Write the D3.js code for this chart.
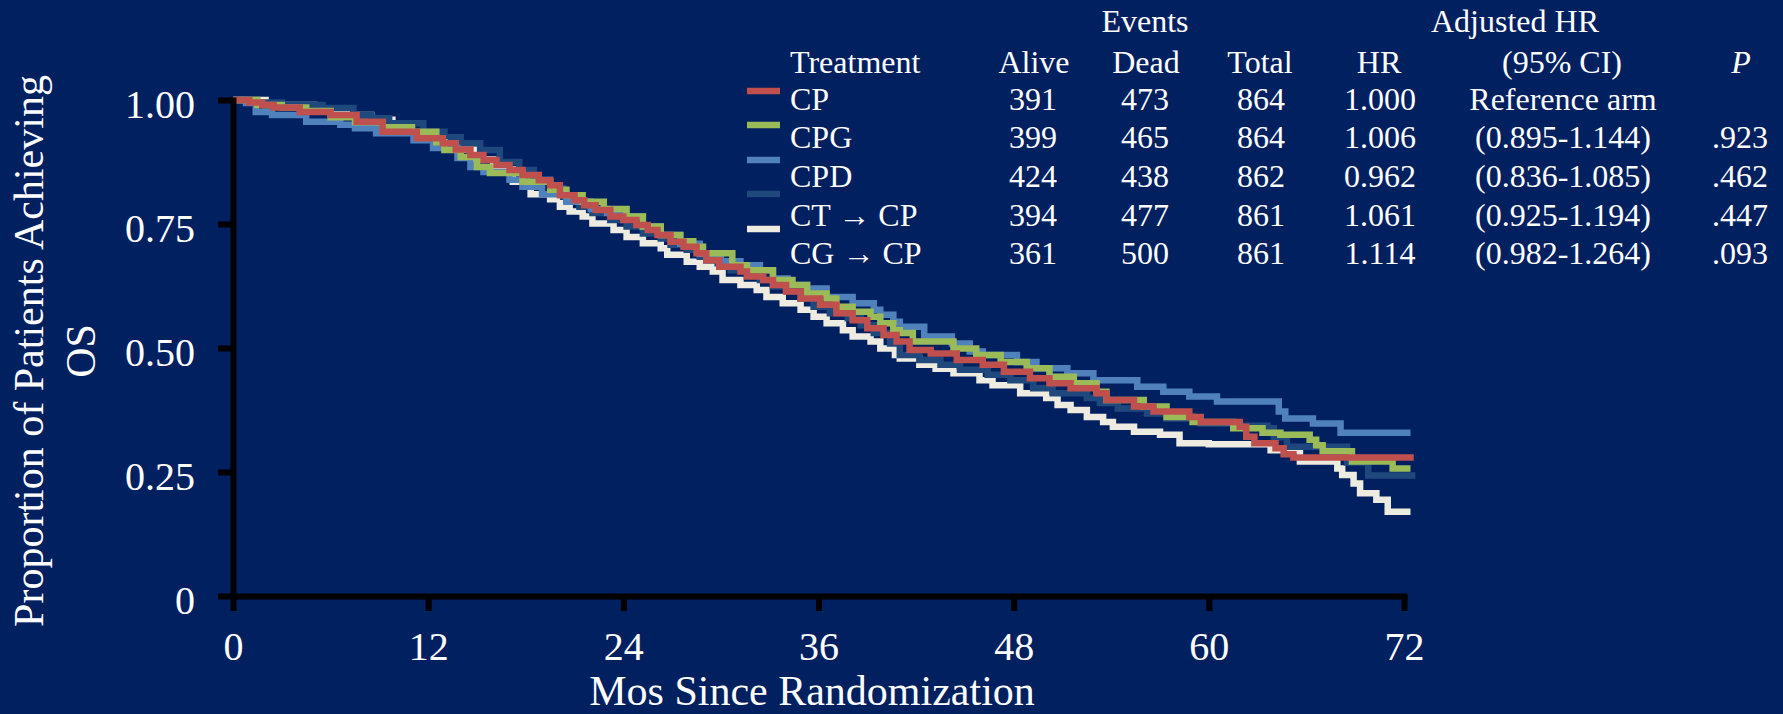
<!DOCTYPE html>
<html>
<head>
<meta charset="utf-8">
<script src="https://cdn.jsdelivr.net/npm/d3@7"></script>
<style>
  html, body { margin: 0; padding: 0; background: #002060; }
  svg { display: block; }
  text { font-family: "Liberation Serif", "Times New Roman", serif; fill: #ffffff; }
</style>
</head>
<body>
<svg id="chart" width="1783" height="714"></svg>
<script>
// ---------------- DATA ----------------
const xTicks = [0, 12, 24, 36, 48, 60, 72];
const xTickLabels = ["0", "12", "24", "36", "48", "60", "72"];
const yTicks = [0, 0.25, 0.5, 0.75, 1.0];
const yTickLabels = ["0", "0.25", "0.50", "0.75", "1.00"];

const seriesNames = ["CP", "CPG", "CPD", "CT \u2192 CP", "CG \u2192 CP"];
const seriesColors = ["#C0504D", "#9BBB59", "#4F81BD", "#1F497D", "#EEECE1"];

// Kaplan-Meier step points [month, proportion]
const CP = [[0,1.0],[1.0,0.995],[1.8,0.99],[2.5,0.985],[4.1,0.976],[6.0,0.970],[7.6,0.956],[9.2,0.936],
  [11.3,0.923],[12.9,0.913],[13.7,0.900],[14.6,0.889],[15.4,0.879],[16.2,0.869],[17.0,0.859],[17.8,0.849],
  [18.8,0.838],[19.5,0.828],[20.1,0.808],[21.0,0.798],[21.6,0.788],[22.3,0.778],[23.2,0.765],[24.0,0.758],
  [24.8,0.748],[25.5,0.738],[26.1,0.728],[26.9,0.714],[27.7,0.704],[28.5,0.691],[29.1,0.677],[29.9,0.664],
  [31.2,0.654],[31.6,0.644],[32.6,0.637],[33.2,0.627],[34.0,0.614],[34.9,0.600],[36.1,0.587],[37.1,0.570],
  [38.1,0.556],[39.0,0.540],[40.0,0.526],[40.8,0.513],[41.6,0.496],[42.9,0.489],[44.5,0.476],[46.1,0.466],
  [47.4,0.452],[49.0,0.439],[50.2,0.429],[51.5,0.419],[53.1,0.409],[53.7,0.395],[55.4,0.382],[56.6,0.372],
  [58.8,0.361],[59.5,0.351],[61.9,0.341],[62.3,0.321],[62.8,0.308],[64.1,0.298],[64.6,0.286],[65.2,0.279],
  [72.6,0.279]];

const CPG = [[0,1.0],[1.5,0.99],[3.0,0.985],[4.5,0.978],[6.0,0.965],[7.5,0.955],[9.2,0.945],[11.0,0.936],
  [12.5,0.915],[13.0,0.899],[14.0,0.885],[15.0,0.865],[15.8,0.853],[17.8,0.835],[19.5,0.819],[20.5,0.808],
  [21.5,0.795],[22.8,0.780],[24.2,0.765],[25.2,0.745],[26.3,0.728],[27.5,0.715],[28.3,0.704],[28.9,0.691],
  [30.7,0.667],[31.6,0.657],[33.2,0.637],[34.4,0.627],[35.3,0.610],[36.5,0.600],[37.1,0.583],[38.1,0.573],
  [39.2,0.563],[39.8,0.550],[40.6,0.536],[41.0,0.530],[41.8,0.513],[44.3,0.499],[45.7,0.486],[47.2,0.472],
  [48.8,0.459],[50.2,0.442],[51.7,0.429],[53.1,0.412],[53.7,0.395],[56.0,0.382],[57.4,0.361],[59.0,0.351],
  [61.5,0.338],[63.3,0.329],[64.4,0.325],[66.2,0.315],[66.6,0.304],[67.0,0.292],[68.8,0.271],[71.3,0.257],
  [72.4,0.257]];

const CPD = [[0,1.0],[0.8,0.994],[1.4,0.976],[2.4,0.970],[4.5,0.956],[6.6,0.950],[7.5,0.943],[8.8,0.933],
  [11.1,0.919],[12.3,0.903],[13.8,0.883],[14.6,0.865],[15.4,0.855],[17.0,0.839],[17.8,0.825],[19.0,0.810],
  [20.5,0.795],[22.0,0.780],[23.0,0.772],[24.0,0.765],[25.2,0.745],[26.3,0.728],[27.5,0.710],[28.7,0.690],
  [30.0,0.675],[31.2,0.667],[32.4,0.657],[33.2,0.640],[34.1,0.627],[35.3,0.620],[36.5,0.603],[38.1,0.590],
  [39.4,0.577],[39.8,0.567],[40.6,0.553],[41.0,0.543],[42.5,0.523],[44.2,0.509],[45.3,0.493],[46.1,0.486],
  [48.2,0.472],[49.4,0.459],[51.3,0.449],[52.9,0.435],[55.6,0.422],[57.2,0.412],[58.8,0.402],[60.5,0.392],
  [64.3,0.372],[64.7,0.358],[66.4,0.348],[68.1,0.329],[72.4,0.329]];

const CTCP = [[0,1.0],[1.0,0.995],[3.0,0.990],[5.5,0.984],[7.4,0.970],[8.5,0.963],[9.6,0.953],[11.7,0.936],
  [13.0,0.925],[14.0,0.913],[15.2,0.899],[16.4,0.875],[17.6,0.859],[18.5,0.840],[19.5,0.822],[20.3,0.805],
  [21.3,0.785],[22.1,0.772],[23.2,0.758],[24.2,0.745],[25.2,0.731],[26.3,0.721],[26.9,0.708],[27.9,0.698],
  [28.7,0.684],[29.8,0.671],[30.6,0.657],[31.6,0.651],[32.4,0.637],[33.2,0.624],[34.1,0.614],[34.9,0.600],
  [35.7,0.583],[36.7,0.570],[37.8,0.560],[38.6,0.546],[39.4,0.530],[40.4,0.509],[41.0,0.486],[42.2,0.476],
  [43.5,0.466],[44.7,0.456],[46.4,0.446],[47.8,0.435],[49.2,0.419],[50.4,0.409],[52.5,0.399],[53.3,0.389],
  [54.4,0.378],[56.2,0.368],[57.4,0.358],[59.5,0.348],[61.5,0.343],[63.6,0.338],[64.0,0.320],[64.8,0.301],
  [68.5,0.269],[69.8,0.243],[72.7,0.243]];

const CGCP = [[0,1.0],[2.0,0.990],[5.0,0.982],[7.0,0.970],[8.5,0.960],[9.8,0.950],[11.0,0.935],[12.3,0.920],
  [13.5,0.900],[14.8,0.880],[16.0,0.860],[17.2,0.835],[18.3,0.810],[19.5,0.800],[20.1,0.785],[20.7,0.775],
  [21.5,0.765],[22.1,0.751],[23.4,0.738],[24.2,0.724],[25.2,0.711],[26.3,0.701],[26.7,0.688],[27.9,0.674],
  [28.7,0.664],[29.5,0.654],[30.1,0.637],[31.2,0.627],[32.2,0.617],[32.8,0.603],[33.8,0.590],[34.9,0.577],
  [35.7,0.563],[36.5,0.550],[37.5,0.536],[38.1,0.523],[39.2,0.513],[39.8,0.499],[40.7,0.486],[41.0,0.479],
  [42.2,0.466],[43.2,0.458],[44.3,0.449],[45.9,0.435],[46.7,0.425],[48.4,0.409],[50.0,0.399],[50.7,0.385],
  [51.5,0.375],[52.5,0.361],[53.5,0.351],[54.1,0.341],[55.4,0.331],[57.0,0.325],[58.2,0.308],[60.0,0.306],
  [63.8,0.294],[65.6,0.271],[67.9,0.257],[68.2,0.244],[68.9,0.227],[69.3,0.207],[70.3,0.194],[71.0,0.170],
  [72.4,0.170]];

const seriesData = [CP, CPG, CPD, CTCP, CGCP];

// Table
const colHeadersTop = ["Events", "Adjusted HR"];
const colHeaders = ["Treatment", "Alive", "Dead", "Total", "HR", "(95% CI)", "P"];
const aliveVals = ["391", "399", "424", "394", "361"];
const deadVals  = ["473", "465", "438", "477", "500"];
const totalVals = ["864", "864", "862", "861", "861"];
const hrVals    = ["1.000", "1.006", "0.962", "1.061", "1.114"];
const ciVals    = ["Reference arm", "(0.895-1.144)", "(0.836-1.085)", "(0.925-1.194)", "(0.982-1.264)"];
const pVals     = ["", ".923", ".462", ".447", ".093"];

// ---------------- DRAW ----------------
const svg = d3.select("#chart");
svg.append("rect").attr("width", 1783).attr("height", 714).attr("fill", "#002060");

const x = d3.scaleLinear().domain([0, 72]).range([233, 1404]);
const y = d3.scaleLinear().domain([0, 1]).range([596, 100]);

const line = d3.line()
  .x(d => x(d[0]))
  .y(d => y(d[1]))
  .curve(d3.curveStepAfter);

// draw order: bottom to top
const drawOrder = [4, 3, 2, 1, 0];
const gLines = svg.append("g");
drawOrder.forEach(i => {
  gLines.append("path")
    .datum(seriesData[i])
    .attr("d", line)
    .attr("fill", "none")
    .attr("stroke", seriesColors[i])
    .attr("stroke-width", 6.5)
    .attr("stroke-linejoin", "miter")
    .attr("stroke-linecap", "butt");
});

// Axes
const xAxis = d3.axisBottom(x).tickValues(xTicks).tickFormat((d, i) => xTickLabels[i])
  .tickSize(15).tickSizeOuter(0).tickPadding(22);
const yAxis = d3.axisLeft(y).tickValues(yTicks).tickFormat((d, i) => yTickLabels[i])
  .tickSize(15).tickSizeOuter(0).tickPadding(23);

const gx = svg.append("g").attr("transform", "translate(0,596)").call(xAxis);
const gy = svg.append("g").attr("transform", "translate(233,0)").call(yAxis);

[gx, gy].forEach(g => {
  g.select(".domain").attr("stroke", "#000").attr("stroke-width", 6).attr("stroke-linecap", "square");
  g.selectAll(".tick line").attr("stroke", "#000").attr("stroke-width", 6);
  g.selectAll(".tick text")
    .attr("fill", "#fff")
    .style("font-family", '"Liberation Serif", "Times New Roman", serif')
    .style("font-size", "40px");
});
gx.selectAll(".tick text").attr("dy", "0.68em");
gy.selectAll(".tick text").attr("dy", "0.43em");

// Axis titles
svg.append("text")
  .attr("x", 812).attr("y", 705)
  .attr("text-anchor", "middle")
  .style("font-size", "42px")
  .text("Mos Since Randomization");

const yt = svg.append("g").attr("transform", "translate(0,351) rotate(-90)");
yt.append("text").attr("x", 0).attr("y", 43).attr("text-anchor", "middle")
  .style("font-size", "42px").text("Proportion of Patients Achieving");
yt.append("text").attr("x", 0).attr("y", 95).attr("text-anchor", "middle")
  .style("font-size", "42px").text("OS");

// Legend + table
const fs = "32px";
const rowBase = [110, 148, 187, 226, 264];
const legendLineY = [91, 125, 160, 194, 229];

svg.append("text").attr("x", 1145).attr("y", 32).attr("text-anchor", "middle").style("font-size", fs).text(colHeadersTop[0]);
svg.append("text").attr("x", 1515).attr("y", 32).attr("text-anchor", "middle").style("font-size", fs).text(colHeadersTop[1]);

const headerX = [790, 1034, 1146, 1260, 1379, 1562, 1741];
colHeaders.forEach((h, i) => {
  svg.append("text")
    .attr("x", headerX[i]).attr("y", 73)
    .attr("text-anchor", i === 0 ? "start" : "middle")
    .style("font-size", fs)
    .style("font-style", h === "P" ? "italic" : "normal")
    .text(h);
});

const cols = [
  {vals: aliveVals, x: 1033},
  {vals: deadVals, x: 1145},
  {vals: totalVals, x: 1261},
  {vals: hrVals, x: 1380},
  {vals: ciVals, x: 1563},
  {vals: pVals, x: 1740}
];

seriesNames.forEach((name, i) => {
  svg.append("line")
    .attr("x1", 747).attr("x2", 780)
    .attr("y1", legendLineY[i]).attr("y2", legendLineY[i])
    .attr("stroke", seriesColors[i]).attr("stroke-width", 6.5);
  svg.append("text").attr("x", 790).attr("y", rowBase[i]).style("font-size", fs).text(name);
  cols.forEach(c => {
    svg.append("text").attr("x", c.x).attr("y", rowBase[i])
      .attr("text-anchor", "middle").style("font-size", fs).text(c.vals[i]);
  });
});
</script>
</body>
</html>
